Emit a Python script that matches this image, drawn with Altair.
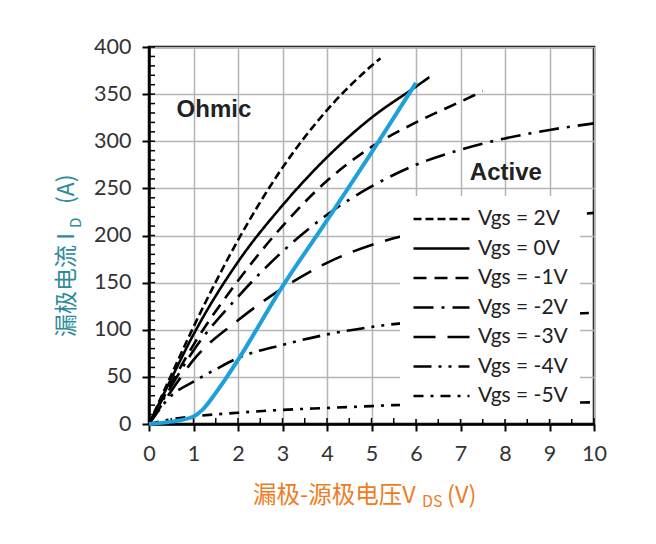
import altair as alt
import pandas as pd

# output characteristics, VDS (V) vs ID (A)
vgs_labels = ["Vgs = 2V", "Vgs = 0V", "Vgs = -1V", "Vgs = -2V", "Vgs = -3V", "Vgs = -4V", "Vgs = -5V"]

vds_p2 = [0, 0.5, 1, 2, 3, 4, 5, 5.2]
id_p2 = [0, 52, 103, 195, 272, 333, 380, 388]

vds_0 = [0, 0.5, 1, 2, 3, 4, 5, 6, 6.3]
id_0 = [0, 48, 95, 172, 232, 283, 325, 358, 368]

vds_m1 = [0, 0.5, 1, 2, 3, 4, 5, 6, 7, 7.5]
id_m1 = [0, 43, 84, 152, 210, 258, 294, 320, 342, 353]

vds_m2 = [0, 0.5, 1, 2, 3, 4, 5, 6, 7, 8, 9, 10]
id_m2 = [0, 40, 78, 135, 183, 222, 252, 275, 291, 303, 312, 319]

vds_m3 = [0, 0.5, 1, 2, 3, 4, 5, 5.5, 7, 8.5, 10]
id_m3 = [0, 35, 68, 110, 144, 171, 190, 197, 210, 218, 224]

vds_m4 = [0, 0.5, 1, 1.5, 2, 3, 4, 5, 5.5, 7, 8.5, 10]
id_m4 = [0, 30, 45, 58, 70, 84, 95, 103, 106, 111, 115, 118]

vds_m5 = [0, 0.5, 1, 2, 3, 4, 5, 5.5, 7, 10]
id_m5 = [0, 5, 8, 12, 15, 17, 19, 20, 21, 23]

# blue trajectory
vds_blue = [0, 0.5, 1, 1.2, 1.5, 2, 3, 4, 5, 6]
id_blue = [0, 2.5, 8, 15, 33, 68, 146, 216, 288, 362]

region_names = ["Ohmic", "Active"]
region_x = [0.62, 7.21]
region_y = [326, 259]

x_ticks = list(range(0, 11))
y_ticks = list(range(0, 401, 50))
x_minor = [i / 2 for i in range(0, 21)]
y_minor = list(range(0, 401, 10))

series = [vds_p2, vds_0, vds_m1, vds_m2, vds_m3, vds_m4, vds_m5]
values = [id_p2, id_0, id_m1, id_m2, id_m3, id_m4, id_m5]
frames = []
for lab, xs, ys in zip(vgs_labels, series, values):
    frames.append(pd.DataFrame({"vgs": lab, "vds": xs, "id": ys}))
curves_df = pd.concat(frames, ignore_index=True)
blue_df = pd.DataFrame({"vds": vds_blue, "id": id_blue})
region_df = pd.DataFrame({"name": region_names, "vds": region_x, "id": region_y})

dashes = [[8, 4], [1, 0], [13, 8], [20, 8, 3, 8], [22, 12], [18, 7, 3, 7, 3, 7], [10, 7, 3, 7]]

x_scale = alt.Scale(domain=[0, 10], nice=False)
y_scale = alt.Scale(domain=[0, 400], nice=False)
W, H = 445, 377

curves = alt.Chart(curves_df).mark_line(color="black", strokeWidth=2.6, interpolate="monotone").encode(
    x=alt.X("vds:Q", scale=x_scale, title=None,
            axis=alt.Axis(values=x_ticks, tickSize=7, labelPadding=12, labelFlush=False, grid=True)),
    y=alt.Y("id:Q", scale=y_scale, title=None,
            axis=alt.Axis(values=y_ticks, tickSize=7, labelPadding=11, grid=True)),
    strokeDash=alt.StrokeDash(
        "vgs:N",
        scale=alt.Scale(domain=vgs_labels, range=dashes),
        legend=alt.Legend(title=None, orient="none", legendX=251, legendY=149,
                          fillColor="white", padding=12, symbolType="stroke",
                          symbolSize=3136, symbolStrokeWidth=2.6, symbolStrokeColor="black",
                          clipHeight=22, rowPadding=7.5, labelFont="Lato", labelFontSize=21,
                          labelColor="#222", labelOffset=7, labelLimit=200),
    ),
)

# inner minor ticks
x_minor_ticks = alt.Chart(pd.DataFrame({"t": x_minor})).mark_rule(color="black", strokeWidth=1.5).encode(
    x=alt.X("t:Q", scale=x_scale, axis=None), y=alt.value(H - 6), y2=alt.value(H)
)
y_minor_ticks = alt.Chart(pd.DataFrame({"t": y_minor})).mark_rule(color="black", strokeWidth=1.5).encode(
    y=alt.Y("t:Q", scale=y_scale, axis=None), x=alt.value(0), x2=alt.value(6)
)

blue = alt.Chart(blue_df).mark_line(color="#1ea0dc", strokeWidth=4, interpolate="monotone").encode(
    x=alt.X("vds:Q", scale=x_scale, axis=None),
    y=alt.Y("id:Q", scale=y_scale, axis=None),
)

regions = alt.Chart(region_df).mark_text(
    align="left", baseline="alphabetic", font="Liberation Sans", fontWeight="bold",
    fontSize=24, color="#222"
).encode(
    x=alt.X("vds:Q", scale=x_scale, axis=None),
    y=alt.Y("id:Q", scale=y_scale, axis=None),
    text="name:N",
)

orange = "#ef7d1f"
teal = "#2e8b9b"
cjk = "Noto Sans CJK SC"


def label(txt, x, y, size, color, angle=0, baseline="alphabetic"):
    return alt.Chart(pd.DataFrame({"t": [txt]})).mark_text(
        align="left", baseline=baseline, font=cjk, fontSize=size, color=color, angle=angle
    ).encode(x=alt.value(x), y=alt.value(y), text="t:N")


x_title = [
    label("漏极-源极电压V", 104, 456, 23.5, orange),
    label("DS", 273, 460, 16, orange),
    label("(V)", 298, 456, 23.5, orange),
]
y_title = [
    label("漏极电流 I", -82, 290, 23, teal, angle=270, baseline="middle"),
    label("D", -73, 181, 15, teal, angle=270, baseline="middle"),
    label("(A)", -82, 157, 23, teal, angle=270, baseline="middle"),
]

chart = alt.layer(curves, x_minor_ticks, y_minor_ticks, blue, regions, *x_title, *y_title).resolve_axis(
    x="independent", y="independent"
).properties(
    width=W, height=H,
    padding={"left": 141, "top": 39, "right": 54, "bottom": 112},
    autosize=alt.AutoSizeParams(type="none"),
).configure_view(
    stroke="black", strokeWidth=2.5
).configure_axis(
    labelFont="Lato", labelFontSize=21.5, labelColor="#333",
    domainColor="black", domainWidth=2.5, tickColor="black", tickWidth=2,
    gridColor="#b4b4b4", gridWidth=1.5,
)

chart.save("out.html", embed_options={"renderer": "svg", "actions": False})
